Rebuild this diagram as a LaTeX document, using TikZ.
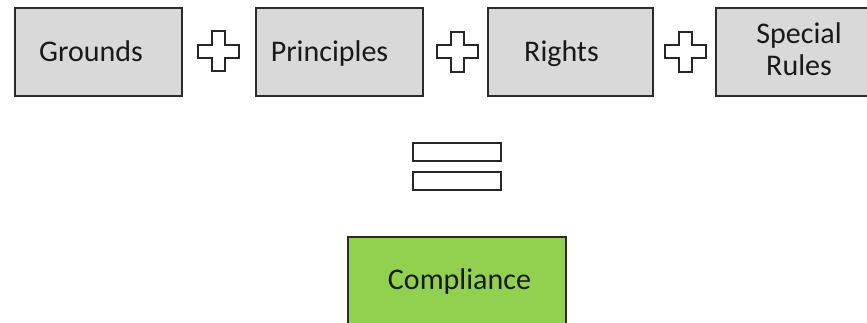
\documentclass[tikz,border=0pt]{standalone}
\usepackage{fontspec}
\setmainfont{Carlito}
\definecolor{boxgray}{HTML}{D9D9D9}
\definecolor{boxgreen}{HTML}{92D050}
\definecolor{edge}{HTML}{2B2B2B}
\begin{document}
\begin{tikzpicture}[x=1pt,y=-1pt,
  box/.style={draw=edge,line width=1.6pt},
  lbl/.style={inner sep=0pt,anchor=base,font=\fontsize{30}{32.5}\selectfont,text=black!90},
  sym/.style={draw=black!85,line width=2pt,fill=white,line join=miter},
  plus/.pic={\path[sym] (-6.5,-20) -- (6.5,-20) -- (6.5,-6.5) -- (20.5,-6.5) -- (20.5,6.5) -- (6.5,6.5) -- (6.5,20) -- (-6.5,20) -- (-6.5,6.5) -- (-20.5,6.5) -- (-20.5,-6.5) -- (-6.5,-6.5) -- cycle;}
]
\useasboundingbox (0,0) rectangle (867,323);
\clip (0,0) rectangle (867,323);
\fill[white] (0,0) rectangle (867,323);
% boxes
\draw[box,fill=boxgray] (15,8) rectangle (182,96);
\draw[box,fill=boxgray] (256,8) rectangle (423,96);
\draw[box,fill=boxgray] (488,8) rectangle (653,96);
\draw[box,fill=boxgray] (716,8) rectangle (884,96);
\draw[box,fill=boxgreen] (348,237) rectangle (566,330);
% labels
\node[lbl] (grounds) at (91,62) {Grounds};
\node[lbl] (principles) at (329.5,62) {Principles};
\node[lbl] (rights) at (561.5,62) {Rights};
\node[lbl] (special) at (799,43.3) {Special};
\node[lbl] (rules) at (799,75.7) {Rules};
\node[lbl] (compliance) at (459.5,289) {Compliance};
% plus signs
\coordinate (p1) at (218.5,51.5);
\coordinate (p2) at (457.5,52);
\coordinate (p3) at (685.5,52);
\pic at (p1) {plus};
\pic at (p2) {plus};
\pic at (p3) {plus};
% equals sign
\draw[sym] (413,143) rectangle (501,161);
\draw[sym] (413,172) rectangle (501,190);
\end{tikzpicture}
\end{document}
